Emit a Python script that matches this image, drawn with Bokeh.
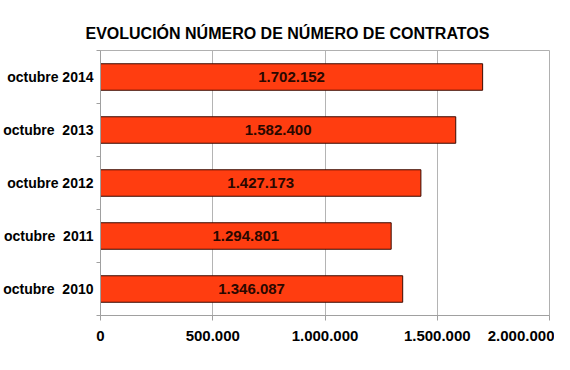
from bokeh.plotting import figure
from bokeh.models import Range1d, FixedTicker, ColumnDataSource
from bokeh.core.properties import value
from bokeh.embed import file_html
from bokeh.resources import INLINE

categories = ["octubre\u00a0 2010", "octubre\u00a0 2011", "octubre 2012", "octubre\u00a0 2013", "octubre 2014"]
contratos = [1346087, 1294801, 1427173, 1582400, 1702152]
x_ticks = [0, 500000, 1000000, 1500000, 2000000]
x_tick_labels = ["0", "500.000", "1.000.000", "1.500.000", "2.000.000"]
title_text = "EVOLUCIÓN NÚMERO DE NÚMERO DE CONTRATOS"

FONT = "Liberation Sans"

idx = list(range(len(categories)))
src = ColumnDataSource(dict(
    y=idx,
    v=contratos,
    mid=[c / 2 for c in contratos],
    lbl=[f"{c:,}".replace(",", ".") for c in contratos],
))

p = figure(width=554, height=354, output_backend="svg", toolbar_location=None,
           x_range=Range1d(0, 2000000), y_range=Range1d(-0.5, len(categories) - 0.5),
           min_border_left=100, min_border_right=5, min_border_top=50, min_border_bottom=39)

p.title.text = title_text
p.title.align = "left"
p.title.offset = -15
p.title.standoff = 17
p.title.text_font = FONT
p.title.text_font_size = "16px"
p.title.text_font_style = "bold"
p.title.text_color = "black"

p.outline_line_color = "#b0b0b0"
p.background_fill_color = "white"
p.border_fill_color = "white"

p.hbar(y="y", right="v", left=0, height=0.5, source=src,
       fill_color="#ff3d10", line_color="#3a0a00", line_width=1)

p.text(x="mid", y="y", text="lbl", source=src, text_align="center", text_baseline="middle",
       text_font=value(FONT), text_font_size="15px", text_font_style="bold", text_color="#2a0800")

p.xgrid.ticker = FixedTicker(ticks=x_ticks)
p.xgrid.grid_line_color = "#b4b4b4"
p.ygrid.grid_line_color = None

p.xaxis.ticker = FixedTicker(ticks=x_ticks)
p.xaxis.major_label_overrides = {t: l for t, l in zip(x_ticks, x_tick_labels)}
p.xaxis.major_label_text_font = FONT
p.xaxis.major_label_text_font_size = "15px"
p.xaxis.major_label_text_font_style = "bold"
p.xaxis.major_label_text_color = "black"
p.xaxis.axis_line_color = "#a0a0a0"
p.xaxis.major_tick_line_color = "#a0a0a0"
p.xaxis.major_tick_in = 0
p.xaxis.major_tick_out = 5
p.xaxis.minor_tick_line_color = None
p.xaxis.major_label_standoff = 10

# category labels at bar centres, boundary tick marks as minor ticks
p.yaxis.ticker = FixedTicker(ticks=idx, minor_ticks=[i - 0.5 for i in range(len(categories) + 1)])
p.yaxis.major_label_overrides = {i: c for i, c in zip(idx, categories)}
p.yaxis.major_label_text_font = FONT
p.yaxis.major_label_text_font_size = "14px"
p.yaxis.major_label_text_font_style = "bold"
p.yaxis.major_label_text_color = "black"
p.yaxis.major_label_standoff = 3
p.yaxis.axis_line_color = "#a0a0a0"
p.yaxis.major_tick_line_color = None
p.yaxis.major_tick_in = 0
p.yaxis.major_tick_out = 0
p.yaxis.minor_tick_line_color = "#a0a0a0"
p.yaxis.minor_tick_in = 0
p.yaxis.minor_tick_out = 4

open("out.html", "w").write(file_html(p, INLINE))
